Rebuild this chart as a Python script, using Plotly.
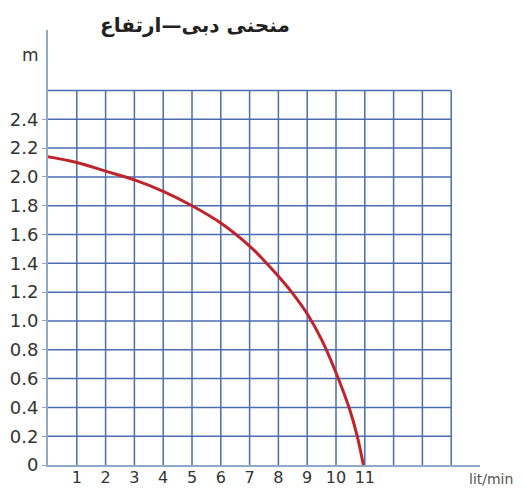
import plotly.graph_objects as go

# flow (lit/min) vs head (m)
flow = [0, 1, 2, 3, 4, 5, 6, 7, 7.5, 8, 8.5, 9, 9.5, 10, 10.5, 10.75, 10.95]
head = [2.14, 2.10, 2.04, 1.98, 1.90, 1.80, 1.68, 1.52, 1.42, 1.31, 1.19, 1.05, 0.87, 0.64, 0.37, 0.19, 0]

x_ticks = list(range(1, 12))
y_ticks = [0, 0.2, 0.4, 0.6, 0.8, 1.0, 1.2, 1.4, 1.6, 1.8, 2.0, 2.2, 2.4]
y_labels = ['0'] + [f'{v:.1f}' for v in y_ticks[1:]]

grid_cols = 14
grid_top = 2.6
grid_color = '#4a6db0'
axis_color = '#8fa9c9'
text_color = '#333333'

# the page puts the figure 8px in from the top-left corner
OFF = 8
W, H = 524 - OFF, 489 - OFF
ML, MR, MT, MB = 48 - OFF, 44, 30 - OFF, 24

fig = go.Figure()

# grid drawn as shapes so it stops at the box, not at the axis ends
for i in range(1, grid_cols + 1):
    fig.add_shape(type='line', x0=i, x1=i, y0=0, y1=grid_top,
                  line=dict(color=grid_color, width=1.5), layer='below')
for k in range(1, 14):
    yv = round(k * 0.2, 1)
    fig.add_shape(type='line', x0=0, x1=grid_cols, y0=yv, y1=yv,
                  line=dict(color=grid_color, width=1.5), layer='below')

fig.add_trace(go.Scatter(x=flow, y=head, mode='lines',
                         line=dict(color='#c0232b', width=3, shape='spline', smoothing=1.0),
                         showlegend=False))

fig.update_xaxes(range=[0, 15], tickvals=x_ticks, ticktext=[str(v) for v in x_ticks],
                 showgrid=False, zeroline=False, showline=True, linecolor=axis_color,
                 linewidth=2, ticks='', automargin=False, ticklabelstandoff=-3,
                 tickfont=dict(size=16, color=text_color, family='DejaVu Sans'))
fig.update_yaxes(range=[0, 3.02], tickvals=y_ticks, ticktext=y_labels,
                 showgrid=False, zeroline=False, showline=True, linecolor=axis_color,
                 linewidth=2, ticks='outside', ticklen=4, tickcolor=axis_color,
                 automargin=False,
                 tickfont=dict(size=18, color=text_color, family='DejaVu Sans'))

fig.update_layout(
    width=W, height=H,
    margin=dict(l=ML, r=MR, t=MT, b=MB, autoexpand=False),
    plot_bgcolor='white', paper_bgcolor='white',
    font=dict(family='DejaVu Sans', color=text_color),
)

pw, ph = W - ML - MR, H - MT - MB
def px(xp, yp):
    # page pixel position -> paper coordinates
    return (xp - OFF - ML) / pw, (H - MB - (yp - OFF)) / ph

def label(xp, yp, text, **font):
    x, y = px(xp, yp)
    fig.add_annotation(x=x, y=y, xref='paper', yref='paper', text=text,
                       xanchor='center', yanchor='middle', showarrow=False, font=font)

label(195, 25, '<b>منحنی دبی—ارتفاع</b>', size=20, color='#222222', family='DejaVu Sans')
label(30, 55, 'm', size=17, color=text_color)
label(491, 479, 'lit/min', size=14, color='#555555')

fig.write_html("out.html")
